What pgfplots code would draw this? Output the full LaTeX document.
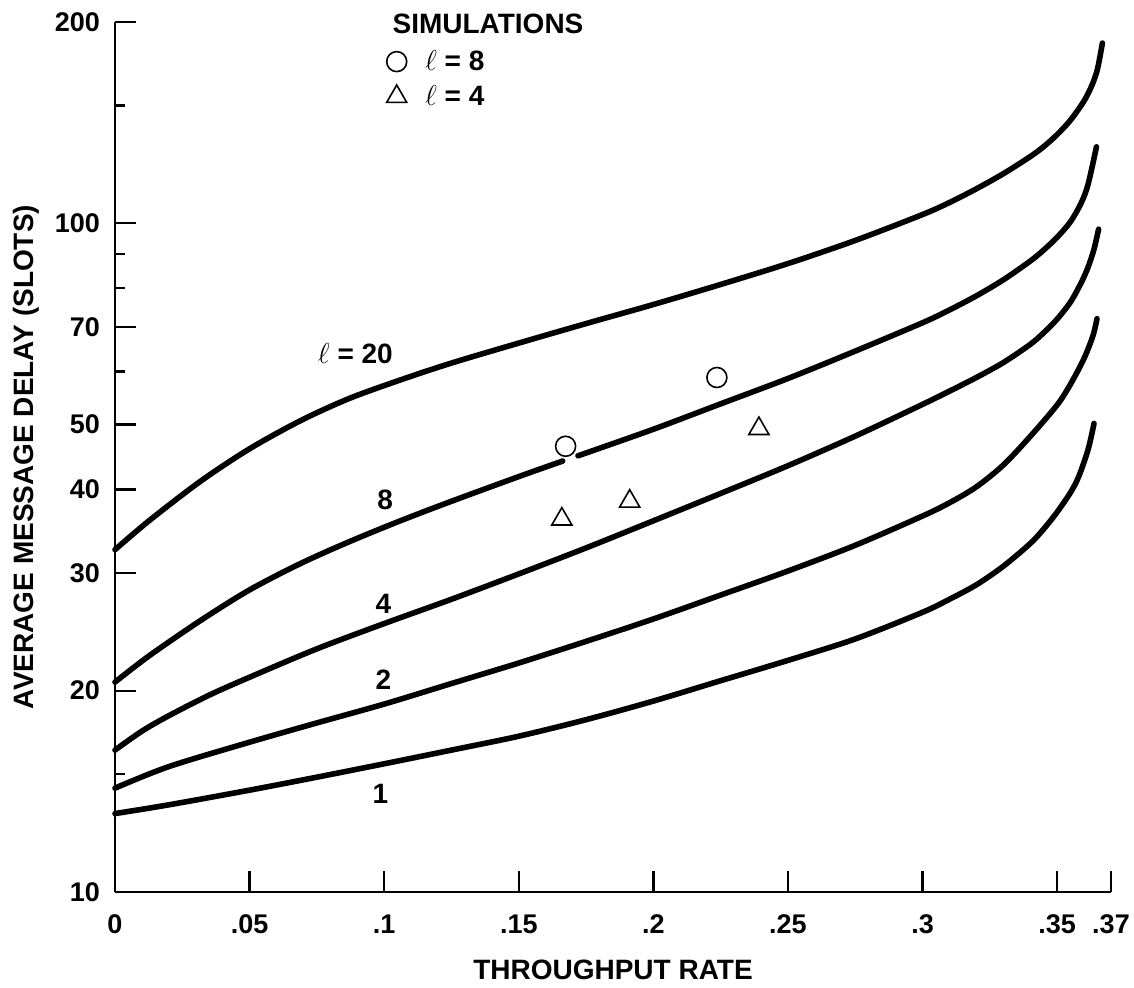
\documentclass[border=0pt]{standalone}
\usepackage{fontspec}
\setmainfont{Liberation Sans}
\usepackage{pgfplots}
\pgfplotsset{compat=1.18}
\pgfplotsset{markleg/.style={legend image code/.code={\draw[##1] plot coordinates {(5pt,0pt)}; \path (0pt,0pt) (17pt,0pt);}}}
\begin{document}
\begin{tikzpicture}
\useasboundingbox (-57.5pt,-48pt) rectangle (509.5pt,446pt);
\begin{axis}[
 at={(0pt,0pt)}, anchor=south west,
 scale only axis, width=498pt, height=435pt,
 ymode=log, xmin=0, xmax=0.37, ymin=10, ymax=200,
 clip=false,
 axis x line=bottom, axis y line=left,
 axis line style={-, line width=1.4pt},
 tick align=inside,
 major tick length=10.5pt, minor tick length=5pt,
 every tick/.style={black, line width=1.2pt},
 xtick={0,0.05,0.1,0.15,0.2,0.25,0.3,0.35,0.37},
 xticklabels={0,.05,.1,.15,.2,.25,.3,.35,.37},
 ytick={10,20,30,40,50,70,100,200},
 yticklabels={10,20,30,40,50,70,100,200},
 minor ytick={15,60,80,90,150},
 tick label style={font=\fontsize{13.5}{16}\selectfont\bfseries},
 xticklabel style={yshift=-8pt},
 yticklabel style={xshift=-4pt},
 xlabel={THROUGHPUT RATE},
 ylabel={AVERAGE MESSAGE DELAY (SLOTS)},
 label style={font=\fontsize{14}{16}\selectfont\bfseries},
 xlabel style={at={(axis description cs:0.5,-0.0897)}, anchor=center},
 ylabel style={at={(axis description cs:-0.0894,0.5)}, anchor=center},
 legend style={at={(axis description cs:0.272,0.9727)}, anchor=north west,
   draw=none, fill=none, font=\fontsize{14}{16}\selectfont\bfseries,
   legend cell align=left, row sep=2pt, inner sep=0pt},
 curve/.style={black, line width=2.8pt, line cap=round, smooth, no markers, forget plot},
 markleg,
]
% l = 20
\addplot[curve] coordinates {
(0,32.5) (0.013,36.0) (0.032,41.2) (0.05,46.0) (0.069,50.7) (0.087,54.7)
(0.106,58.3) (0.125,61.8) (0.15,66.2) (0.175,70.8) (0.2,75.6) (0.225,81.0)
(0.25,87.05) (0.275,94.25) (0.3,103.05) (0.31,107.4) (0.32,112.6) (0.33,118.6)
(0.34,125.8) (0.345,130.2) (0.35,135.7) (0.355,142.7) (0.36,152.4)
(0.363,161.1) (0.365,170.2) (0.3668,186)};
% l = 8 (two pieces)
\addplot[curve] coordinates {
(0,20.6) (0.013,22.6) (0.032,25.5) (0.05,28.3) (0.069,31.0) (0.087,33.4)
(0.106,35.9) (0.125,38.4) (0.15,41.8) (0.1663,44.1)};
\addplot[curve] coordinates {
(0.172,44.9) (0.2,49.2) (0.225,53.7) (0.25,58.6) (0.275,64.4) (0.3,71.0)
(0.31,74.2) (0.32,77.9) (0.33,82.3) (0.34,87.8) (0.345,91.2) (0.35,95.3)
(0.355,100.6) (0.359,107.4) (0.3615,114.4) (0.3646,130.1)};
% l = 4
\addplot[curve] coordinates {
(0,16.3) (0.01,17.4) (0.02,18.35) (0.035,19.7) (0.05,20.95) (0.075,23.1)
(0.1,25.2) (0.125,27.4) (0.15,29.9) (0.175,32.7) (0.2,35.9) (0.225,39.45)
(0.25,43.4) (0.275,48.05) (0.3,53.6) (0.31,56.1) (0.32,58.8) (0.33,61.9)
(0.34,65.9) (0.345,68.6) (0.35,71.9) (0.355,76.3) (0.359,81.6) (0.3615,86)
(0.3637,91.5) (0.3654,98)};
% l = 2
\addplot[curve] coordinates {
(0,14.3) (0.02,15.4) (0.05,16.75) (0.075,17.9) (0.1,19.1) (0.125,20.5)
(0.15,22.0) (0.175,23.7) (0.2,25.6) (0.225,27.8) (0.25,30.2) (0.275,33.0)
(0.3,36.5) (0.31,38.2) (0.32,40.35) (0.33,43.5) (0.34,48.0) (0.35,53.5)
(0.355,57.5) (0.36,62.8) (0.3633,67.9) (0.3648,72)};
% l = 1
\addplot[curve] coordinates {
(0,13.1) (0.02,13.5) (0.05,14.2) (0.075,14.85) (0.1,15.55) (0.125,16.3)
(0.15,17.1) (0.175,18.1) (0.2,19.3) (0.225,20.7) (0.25,22.2) (0.275,23.9)
(0.3,26.2) (0.31,27.4) (0.32,28.8) (0.33,30.7) (0.34,33.2) (0.345,34.9)
(0.35,37.0) (0.355,39.6) (0.358,41.8) (0.3615,45.9) (0.3637,50.2)};
% simulations
\addplot[only marks, mark=o, mark size=5pt, mark options={black, line width=0.8pt}]
  coordinates {(0.1674,46.4) (0.2236,58.8)};
\addlegendentry{$\ell$ = 8}
\addplot[only marks, mark=triangle, mark size=5.8pt, mark options={black, line width=0.8pt}]
  coordinates {(0.166,36.1) (0.1912,38.4) (0.2392,49.3)};
\addlegendentry{$\ell$ = 4}
\node[font=\fontsize{14}{16}\selectfont\bfseries] at (axis description cs:0.3745,0.9977) {SIMULATIONS};
\node[font=\fontsize{14}{16}\selectfont\bfseries] at (axis cs:0.0893,63.8) {$\ell$ = 20};
\node[font=\fontsize{14}{16}\selectfont\bfseries] at (axis cs:0.1004,38.6) {8};
\node[font=\fontsize{14}{16}\selectfont\bfseries] at (axis cs:0.0997,27.0) {4};
\node[font=\fontsize{14}{16}\selectfont\bfseries] at (axis cs:0.0997,20.8) {2};
\node[font=\fontsize{14}{16}\selectfont\bfseries] at (axis cs:0.0986,14.0) {1};
\end{axis}
\end{tikzpicture}
\end{document}
